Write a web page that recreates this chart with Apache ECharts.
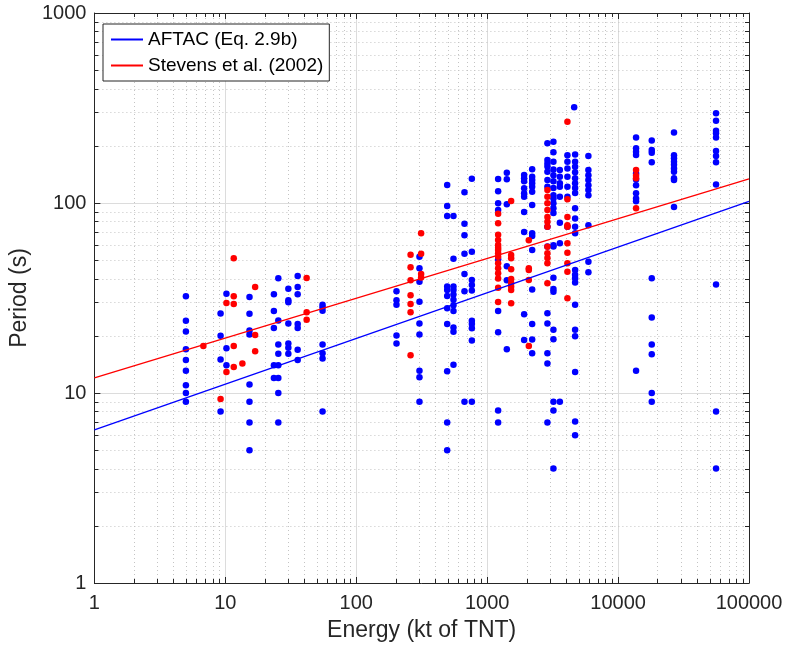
<!DOCTYPE html>
<html><head><meta charset="utf-8">
<script src="https://cdn.jsdelivr.net/npm/echarts@6/dist/echarts.min.js"></script>
<style>html,body{margin:0;padding:0;background:#fff}#c{width:787px;height:649px}</style>
</head><body><div id="c"></div><script>
// ---- Data ----
const xTickLabels = ['1', '10', '100', '1000', '10000', '100000'];
const yTickLabels = ['1', '10', '100', '1000'];
const lineNames = ['AFTAC (Eq. 2.9b)', 'Stevens et al. (2002)'];
const aftacLineEnergy = [1, 100000];
const aftacLinePeriod = [6.4, 102];
const stevensLineEnergy = [1, 100000];
const stevensLinePeriod = [12.0, 134];

const blueEnergy = [5, 9.2, 10.2, 15.3, 23.5, 25.4, 30.3, 35.7, 55.3, 203, 304, 495, 553, 671, 764,
  1213, 1413, 1916, 2207, 2886, 3208, 3590, 4103, 4620, 4697, 5933, 13720, 18080, 26740, 56000];
const bluePeriods = [
  [32.3, 24.0, 21.1, 17.0, 14.9, 13.1, 11.0, 10.0, 9.0],
  [26.2, 20.0, 15.0, 8.0],
  [33.3, 17.2, 14.0],
  [32.0, 26.1, 21.3, 20.3, 11.1, 9.0, 7.0, 5.0],
  [33.1, 27.0, 22.0, 14.0, 12.0],
  [40.2, 24.1, 18.0, 16.1, 14.0, 12.0, 10.0, 7.0],
  [35.4, 30.8, 30.0, 23.2, 18.2, 17.3, 16.1],
  [41.3, 36.1, 33.1, 23.1, 22.0, 16.9, 14.9],
  [29.1, 28.3, 27.1, 18.0, 16.2, 15.2, 8.0],
  [34.3, 30.8, 29.1, 20.1, 18.2],
  [52.2, 45.3, 38.5, 30.2, 23.2, 20.3, 13.1, 12.1, 9.0],
  [124.4, 96.4, 85.4, 36.3, 34.8, 32.4, 27.9, 23.1, 13.0, 7.0, 5.0],
  [85.4, 50.9, 36.3, 34.8, 33.0, 31.0, 29.0, 27.0, 22.1, 21.0, 14.1],
  [113.8, 77.8, 67.6, 54.1, 42.3, 34.3, 9.0],
  [134.3, 55.4, 39.3, 37.0, 34.6, 24.0, 23.1, 21.9, 18.9, 9.0],
  [133.7, 115.3, 99.6, 91.8, 50.5, 27.0, 20.9, 8.1, 7.0],
  [144.3, 133.3, 98.5, 46.4, 39.2, 17.0],
  [140.6, 135, 130, 119.5, 112.6, 108, 89.7, 70.4, 26.0, 19.0],
  [150.5, 137.6, 132, 127, 121.6, 114.5, 97.6, 69.3, 67.0, 56.6, 35.1, 23.1, 19.1, 16.2],
  [206, 168.2, 161.4, 155.4, 146.2, 132, 121.6, 75, 59, 26.3, 23.2, 16.2, 14.3, 7.0],
  [210, 185, 165, 150, 140, 130, 120, 110, 105.6, 99.6, 93.9, 88.6, 60, 59, 40.4, 35.3, 34.1, 21.5, 19.2, 9.0, 8.1, 4.0],
  [149, 137.6, 127, 121.6, 108, 78.8, 61.4, 9.0],
  [178.6, 165, 152, 137.6, 121.6, 108, 75],
  [319],
  [180, 165, 155, 145, 135, 127, 120, 113, 93.9, 83, 75, 69.3, 44.4, 41.9, 40.2, 38.1, 29.1, 21.5, 19.9, 12.9, 7.07, 6.0],
  [177, 149, 140, 132, 124, 117, 110, 76.4, 49.1, 43.2],
  [221, 194, 186, 179, 143, 133, 124, 112.5, 105.6, 102, 13.1],
  [213, 190, 184, 164, 40.2, 25.0, 18.0, 16.0, 10.0, 9.0],
  [235, 178.6, 172, 165, 159, 152, 146, 135, 132, 95.3],
  [297, 271, 240, 233, 221, 188, 177, 164, 125, 37.2, 8.0, 4.0]
];

const redEnergy = [6.8, 9.2, 10.2, 11.6, 13.5, 16.9, 41.8, 260, 313, 1213, 1525, 2080, 2886, 4103, 13720];
const redPeriods = [
  [17.7],
  [9.3],
  [29.8, 12.9],
  [51.2, 32.3, 29.4, 17.7, 13.7],
  [14.3],
  [36.1, 20.2, 16.6],
  [40.3, 26.6, 24.3],
  [53.4, 45.9, 39.2, 32.7, 29.4, 26.6, 15.8],
  [69.3, 54.1, 42.3, 40.6],
  [87.8, 78.2, 68.1, 63.8, 60.1, 58.2, 56.6, 54.4, 52.2, 48.2, 45.3, 42.7, 40.0, 35.8, 30.1],
  [102.5, 53.2, 51.2, 44.8, 39.8, 37.8, 36.3, 34.8, 29.7],
  [63.6, 45.3, 44.4, 39.3, 17.7],
  [117, 108, 99.6, 91.8, 84.4, 79.6, 75, 58.9, 54.4, 51.4, 48.2, 37.8],
  [268, 104.5, 84.4, 76.4, 75.0, 61.4, 54.8, 48.2, 43.5, 31.5],
  [149, 139, 135, 93.8]
];

// ---- Build series data ----
function pairs(es, ps) { const out = []; es.forEach((e, i) => ps[i].forEach(p => out.push([e, p]))); return out; }
function linePairs(es, ps) { return es.map((e, i) => [e, ps[i]]); }
const X_MIN = 1, X_MAX = 100000, Y_MIN = 1, Y_MAX = 1000;
const xMinor = [], yMinor = [];
for (let d = X_MIN; d < X_MAX; d *= 10) for (let k = 2; k <= 9; k++) xMinor.push([k * d, Y_MIN]);
for (let d = Y_MIN; d < Y_MAX; d *= 10) for (let k = 2; k <= 9; k++) yMinor.push([X_MIN, k * d]);

const AX = '#262626';
const FONT = 'Liberation Sans, Arial, Helvetica, sans-serif';
const px = v => Math.round(v) + 0.5;

function minorX(params, api) {
  const v = api.value(0);
  const a = api.coord([v, Y_MIN]), b = api.coord([v, Y_MAX]);
  const x = px(a[0]);
  return { type: 'group', children: [
    { type: 'line', shape: { x1: x, y1: a[1], x2: x, y2: b[1] }, style: { stroke: '#c4c4c4', lineWidth: 1, lineDash: [1, 3] } },
    { type: 'line', shape: { x1: x, y1: a[1], x2: x, y2: a[1] - 4 }, style: { stroke: AX, lineWidth: 1 } },
    { type: 'line', shape: { x1: x, y1: b[1], x2: x, y2: b[1] + 4 }, style: { stroke: AX, lineWidth: 1 } }
  ]};
}
function minorY(params, api) {
  const v = api.value(1);
  const a = api.coord([X_MIN, v]), b = api.coord([X_MAX, v]);
  const y = px(a[1]);
  return { type: 'group', children: [
    { type: 'line', shape: { x1: a[0], y1: y, x2: b[0], y2: y }, style: { stroke: '#c4c4c4', lineWidth: 1, lineDash: [1, 3] } },
    { type: 'line', shape: { x1: a[0], y1: y, x2: a[0] + 4, y2: y }, style: { stroke: AX, lineWidth: 1 } },
    { type: 'line', shape: { x1: b[0], y1: y, x2: b[0] - 4, y2: y }, style: { stroke: AX, lineWidth: 1 } }
  ]};
}

const labelFmt = (labels) => (v) => { const s = String(Math.round(v)); return labels.indexOf(s) >= 0 ? s : ''; };

const chart = echarts.init(document.getElementById('c'), null, { renderer: 'canvas' });
chart.setOption({
  animation: false,
  backgroundColor: '#fff',
  grid: { left: 94, right: 38, top: 13, bottom: 66, containLabel: false },
  legend: {
    data: lineNames, orient: 'vertical', left: 103, top: 24,
    backgroundColor: '#fff', borderColor: AX, borderWidth: 1, borderRadius: 0,
    padding: [6, 6, 6, 8], itemWidth: 32, itemHeight: 2, itemGap: 7, itemTextGap: 4, icon: 'rect',
    textStyle: { fontSize: 19, fontFamily: FONT, color: '#000' }
  },
  xAxis: [{
    type: 'log', logBase: 10, min: X_MIN, max: X_MAX,
    name: 'Energy (kt of TNT)', nameLocation: 'middle', nameGap: 36,
    nameTextStyle: { fontSize: 23, fontFamily: FONT, color: AX },
    axisLine: { show: true, lineStyle: { color: AX, width: 1 } },
    axisTick: { show: true, inside: true, length: 6, lineStyle: { color: AX } },
    axisLabel: { fontSize: 20, fontFamily: FONT, color: AX, margin: 10, formatter: labelFmt(xTickLabels) },
    splitLine: { show: true, lineStyle: { color: '#dcdcdc', width: 1 } },
    minorTick: { show: false }, minorSplitLine: { show: false }
  }, {
    type: 'log', logBase: 10, min: X_MIN, max: X_MAX, position: 'top',
    axisLine: { show: true, lineStyle: { color: AX, width: 1 } },
    axisTick: { show: true, inside: true, length: 6, lineStyle: { color: AX } },
    axisLabel: { show: false }, splitLine: { show: false }
  }],
  yAxis: [{
    type: 'log', logBase: 10, min: Y_MIN, max: Y_MAX,
    name: 'Period (s)', nameLocation: 'middle', nameGap: 57,
    nameTextStyle: { fontSize: 23, fontFamily: FONT, color: AX },
    axisLine: { show: true, lineStyle: { color: AX, width: 1 } },
    axisTick: { show: true, inside: true, length: 6, lineStyle: { color: AX } },
    axisLabel: { fontSize: 20, fontFamily: FONT, color: AX, margin: 8, formatter: labelFmt(yTickLabels) },
    splitLine: { show: true, lineStyle: { color: '#dcdcdc', width: 1 } }
  }, {
    type: 'log', logBase: 10, min: Y_MIN, max: Y_MAX, position: 'right',
    axisLine: { show: true, lineStyle: { color: AX, width: 1 } },
    axisTick: { show: true, inside: true, length: 6, lineStyle: { color: AX } },
    axisLabel: { show: false }, splitLine: { show: false }
  }],
  series: [
    { type: 'custom', name: 'xminor', renderItem: minorX, data: xMinor, z: 0, silent: true, xAxisIndex: 0, yAxisIndex: 0, clip: false },
    { type: 'custom', name: 'yminor', renderItem: minorY, data: yMinor, z: 0, silent: true, xAxisIndex: 0, yAxisIndex: 0, clip: false },
    { type: 'scatter', name: 'AFTAC data', data: pairs(blueEnergy, bluePeriods), symbol: 'circle', symbolSize: 6.5,
      itemStyle: { color: '#0000ff', opacity: 1 }, z: 3 },
    { type: 'scatter', name: 'Stevens data', data: pairs(redEnergy, redPeriods), symbol: 'circle', symbolSize: 6.5,
      itemStyle: { color: '#ff0000', opacity: 1 }, z: 4 },
    { type: 'line', name: lineNames[0], data: linePairs(aftacLineEnergy, aftacLinePeriod), symbol: 'none',
      lineStyle: { color: '#0000ff', width: 1.3 }, itemStyle: { color: '#0000ff' }, z: 5 },
    { type: 'line', name: lineNames[1], data: linePairs(stevensLineEnergy, stevensLinePeriod), symbol: 'none',
      lineStyle: { color: '#ff0000', width: 1.3 }, itemStyle: { color: '#ff0000' }, z: 5 }
  ]
});
</script></body></html>
